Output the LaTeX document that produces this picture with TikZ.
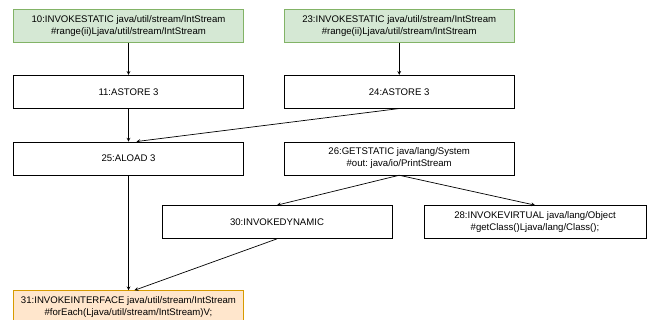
\documentclass[tikz,border=0pt]{standalone}
\usepackage{fontspec}
\setmainfont{Liberation Sans}
\usepackage{tikz}
\usetikzlibrary{arrows.meta, positioning, calc}
\definecolor{StartGreen}{HTML}{d5e8d4}
\definecolor{StartGreenLine}{HTML}{82b366}
\definecolor{EndOrange}{HTML}{ffe6cc}
\definecolor{EndOrangeLine}{HTML}{d79b00}
\tikzset{
  % Box styles
  insnbox/.style={rectangle, draw=black, fill=white, line width=0.7pt, minimum width=230pt, minimum height=33pt, inner sep=1pt, font=\fontsize{9.6}{12}\selectfont, align=center},
  startbox/.style={insnbox, draw=StartGreenLine, fill=StartGreen},
  endbox/.style={insnbox, draw=EndOrangeLine, fill=EndOrange},
  % Arrow styles
  arrow/.style={->, >=stealth, line width=0.7pt, black}
}
\begin{document}
\begin{tikzpicture}
  \useasboundingbox (0pt,0pt) rectangle (658pt,-320pt);
  % Instruction blocks
  \node[startbox] (n10) at (128.5pt,-26pt) {10:INVOKESTATIC java/util/stream/IntStream\\\#range(ii)Ljava/util/stream/IntStream};
  \node[startbox, right=40pt of n10] (n23) {23:INVOKESTATIC java/util/stream/IntStream\\\#range(ii)Ljava/util/stream/IntStream};

  \node[insnbox, below=32pt of n10] (n11) {11:ASTORE 3};
  \node[insnbox, below=32pt of n23] (n24) {24:ASTORE 3};

  \node[insnbox, below=33pt of n11] (n25) {25:ALOAD 3};
  \node[insnbox, below=33pt of n24] (n26) {26:GETSTATIC java/lang/System\\\#out:\ java/io/PrintStream};

  \node[insnbox] (n30) at (277pt,-222pt) {30:INVOKEDYNAMIC};
  \node[insnbox, minimum width=222pt] (n28) at (535pt,-222pt) {28:INVOKEVIRTUAL java/lang/Object\\\#getClass()Ljava/lang/Class();};

  \node[endbox, below=115pt of n25] (n31) {31:INVOKEINTERFACE java/util/stream/IntStream\\\#forEach(Ljava/util/stream/IntStream)V;};

  % Data flow
  \draw[arrow] (n10) -- (n11);
  \draw[arrow] (n23) -- (n24);
  \draw[arrow] (n11) -- (n25);
  \draw[arrow] (n24.south) -- ($(n25.north)+(8pt,0)$);
  \draw[arrow] (n26.south) -- (n30.north);
  \draw[arrow] (n26.south) -- (n28.north);
  \draw[arrow] (n25) -- (n31);
  \draw[arrow] (n30.south) -- ($(n31.north)+(6pt,0)$);
\end{tikzpicture}
\end{document}
